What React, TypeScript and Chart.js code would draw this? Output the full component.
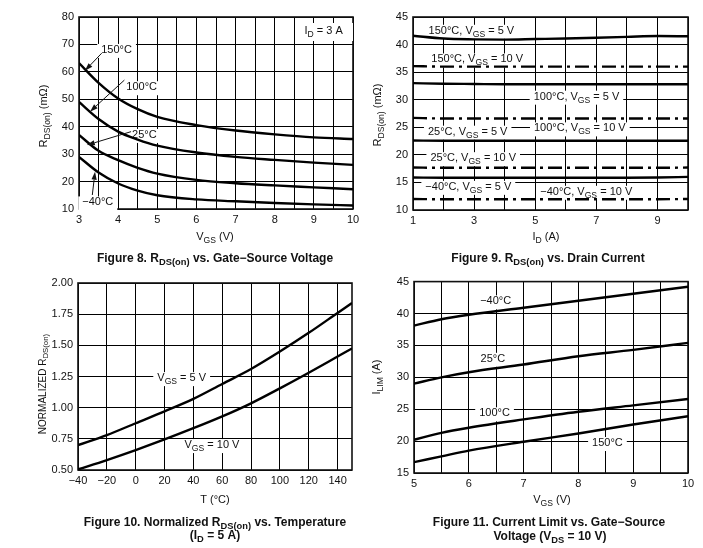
import React, { useEffect, useRef } from 'react';
import { Chart, registerables } from 'chart.js';

Chart.register(...registerables);

const FONT = '"Liberation Sans", Arial, Helvetica, sans-serif';

// ---------- Figure 8: RDS(on) vs VGS ----------
const fig8Vgs = [3, 3.5, 4, 4.5, 5, 6, 7, 8, 9, 10];
const fig8R150 = [63.2, 56.0, 50.3, 46.4, 43.6, 40.6, 38.6, 37.2, 36.1, 35.5];
const fig8R100 = [49.0, 42.8, 38.2, 35.3, 33.1, 30.6, 29.0, 27.9, 26.9, 26.1];
const fig8R25 = [37.0, 31.2, 27.8, 25.0, 22.9, 20.6, 19.4, 18.6, 17.9, 17.2];
const fig8Rm40 = [29.0, 23.3, 19.3, 16.7, 15.0, 13.5, 12.8, 12.2, 11.7, 11.3];
const fig8XTicks = { min: 3, max: 10, step: 0.5 };
const fig8YTicks = { min: 10, max: 80, step: 10 };

// ---------- Figure 9: RDS(on) vs ID ----------
const fig9Id = [1, 2, 3, 4, 5, 6, 7, 8, 9, 10];
const fig9R150V5 = [41.6, 41.1, 40.95, 40.9, 41.0, 41.1, 41.25, 41.4, 41.55, 41.5];
const fig9R150V10 = [36.1, 36.0, 36.0, 36.0, 36.0, 36.0, 36.0, 36.0, 36.0, 36.0];
const fig9R100V5 = [33.0, 32.9, 32.85, 32.8, 32.8, 32.8, 32.8, 32.8, 32.8, 32.8];
const fig9R100V10 = [26.7, 26.6, 26.6, 26.6, 26.6, 26.6, 26.6, 26.6, 26.6, 26.6];
const fig9R25V5 = [22.6, 22.55, 22.55, 22.55, 22.55, 22.55, 22.55, 22.55, 22.55, 22.55];
const fig9R25V10 = [17.7, 17.65, 17.65, 17.65, 17.65, 17.65, 17.65, 17.65, 17.65, 17.7];
const fig9Rm40V5 = [15.9, 15.85, 15.85, 15.85, 15.85, 15.85, 15.85, 15.85, 15.9, 16.0];
const fig9Rm40V10 = [12.0, 11.95, 11.95, 11.95, 11.95, 11.95, 11.95, 11.95, 11.95, 12.0];
const fig9XTicks = { min: 1, max: 10, step: 1 };
const fig9YTicks = { min: 10, max: 45, step: 5 };

// ---------- Figure 10: Normalized RDS(on) vs T ----------
const fig10T = [-40, -20, 0, 20, 40, 60, 80, 100, 120, 140, 150];
const fig10V5 = [0.70, 0.78, 0.875, 0.97, 1.07, 1.19, 1.31, 1.45, 1.60, 1.76, 1.84];
const fig10V10 = [0.505, 0.58, 0.66, 0.745, 0.835, 0.93, 1.035, 1.155, 1.28, 1.41, 1.475];
const fig10XTicks = { min: -40, max: 150, step: 20 };
const fig10YTicks = { min: 0.5, max: 2.0, step: 0.25 };

// ---------- Figure 11: ILIM vs VGS ----------
const fig11Vgs = [5, 5.5, 6, 7, 8, 9, 10];
const fig11Im40 = [38.1, 39.1, 39.8, 40.9, 42.0, 43.1, 44.2];
const fig11I25 = [29.0, 30.0, 30.8, 32.0, 33.3, 34.3, 35.4];
const fig11I100 = [20.2, 21.3, 22.1, 23.4, 24.6, 25.6, 26.6];
const fig11I150 = [16.7, 17.6, 18.5, 19.9, 21.2, 22.6, 23.9];
const fig11XTicks = { min: 5, max: 10, step: 0.5 };
const fig11YTicks = { min: 15, max: 45, step: 5 };

// ---------- helpers ----------
type Seg = { t: string; sub: boolean };
function parseRich(s: string): Seg[] {
  const segs: Seg[] = [];
  const re = /_\{([^}]*)\}/g;
  let last = 0;
  let m: RegExpExecArray | null;
  while ((m = re.exec(s))) {
    if (m.index > last) segs.push({ t: s.slice(last, m.index), sub: false });
    segs.push({ t: m[1], sub: true });
    last = m.index + m[0].length;
  }
  if (last < s.length) segs.push({ t: s.slice(last), sub: false });
  return segs;
}
const fnt = (size: number, bold: boolean) => `${bold ? 'bold ' : ''}${size}px ${FONT}`;
function richWidth(ctx: CanvasRenderingContext2D, text: string, size: number, bold: boolean) {
  let w = 0;
  for (const s of parseRich(text)) {
    ctx.font = fnt(s.sub ? size * 0.78 : size, bold);
    w += ctx.measureText(s.t).width;
  }
  return w;
}
function drawRich(ctx: CanvasRenderingContext2D, text: string, x: number, y: number, size: number, bold = false) {
  const w = richWidth(ctx, text, size, bold);
  let cx = x - w / 2;
  ctx.textBaseline = 'middle';
  ctx.textAlign = 'left';
  ctx.fillStyle = '#111';
  for (const s of parseRich(text)) {
    const sz = s.sub ? size * 0.78 : size;
    ctx.font = fnt(sz, bold);
    ctx.fillText(s.t, cx, s.sub ? y + size * 0.32 : y);
    cx += ctx.measureText(s.t).width;
  }
}

type Label = { text: string; x: number; y: number; padX?: number; h?: number; left?: number; right?: number };
type Arrow = { x1: number; y1: number; x2: number; y2: number };
type Txt = { text: string; x: number; y: number; rotate?: boolean; bold?: boolean; size?: number };
type Series = { xs: number[]; ys: number[]; dash?: number[] };
type Spec = {
  left: number; top: number; w: number; h: number;
  plot: { l: number; t: number; r: number; b: number };
  xt: { min: number; max: number; step: number };
  yt: { min: number; max: number; step: number };
  xLabel: (v: number) => string;
  yLabel: (v: number) => string;
  xIncludeBounds?: boolean;
  series: Series[];
  labels: Label[];
  arrows: Arrow[];
  texts: Txt[];
};

const Y_W = 30;
const X_H = 20;

function decorPlugin(spec: Spec) {
  return {
    id: 'decor',
    beforeDatasetsDraw(chart: any) {
      const ctx: CanvasRenderingContext2D = chart.ctx;
      const xs = chart.scales.x;
      const ys = chart.scales.y;
      const a = chart.chartArea;
      ctx.save();
      ctx.strokeStyle = '#111';
      ctx.lineWidth = 1.6;
      ctx.strokeRect(a.left, a.top, a.right - a.left, a.bottom - a.top);
      for (const lb of spec.labels) {
        const px = xs.getPixelForValue(lb.x);
        const py = ys.getPixelForValue(lb.y);
        const w = richWidth(ctx, lb.text, 11, false);
        const padX = lb.padX ?? 4;
        const hh = lb.h ?? 14;
        let bl = px - w / 2 - padX;
        let br = px + w / 2 + padX;
        if (lb.left !== undefined) bl = xs.getPixelForValue(lb.left);
        if (lb.right !== undefined) br = xs.getPixelForValue(lb.right);
        ctx.fillStyle = '#fff';
        ctx.fillRect(bl, py - hh / 2 + 1, br - bl, hh);
        drawRich(ctx, lb.text, px, py, 11, false);
      }
      ctx.restore();
    },
    afterDatasetsDraw(chart: any) {
      const ctx: CanvasRenderingContext2D = chart.ctx;
      const xs = chart.scales.x;
      const ys = chart.scales.y;
      ctx.save();
      ctx.strokeStyle = '#111';
      ctx.fillStyle = '#111';
      ctx.lineWidth = 1;
      for (const ar of spec.arrows) {
        const x1 = xs.getPixelForValue(ar.x1);
        const y1 = ys.getPixelForValue(ar.y1);
        const x2 = xs.getPixelForValue(ar.x2);
        const y2 = ys.getPixelForValue(ar.y2);
        const ang = Math.atan2(y2 - y1, x2 - x1);
        const L = 8;
        const W = 2.6;
        const bx = x2 - L * Math.cos(ang);
        const by = y2 - L * Math.sin(ang);
        ctx.beginPath();
        ctx.moveTo(x1, y1);
        ctx.lineTo(bx, by);
        ctx.stroke();
        ctx.beginPath();
        ctx.moveTo(x2, y2);
        ctx.lineTo(bx + W * Math.sin(ang), by - W * Math.cos(ang));
        ctx.lineTo(bx - W * Math.sin(ang), by + W * Math.cos(ang));
        ctx.closePath();
        ctx.fill();
      }
      ctx.restore();
    },
    afterDraw(chart: any) {
      const ctx: CanvasRenderingContext2D = chart.ctx;
      ctx.save();
      for (const t of spec.texts) {
        const size = t.size ?? 11;
        if (t.rotate) {
          ctx.save();
          ctx.translate(t.x, t.y);
          ctx.rotate(-Math.PI / 2);
          drawRich(ctx, t.text, 0, 0, size, !!t.bold);
          ctx.restore();
        } else {
          drawRich(ctx, t.text, t.x, t.y, size, !!t.bold);
        }
      }
      ctx.restore();
    },
  };
}

function buildConfig(spec: Spec): any {
  const { w, h, plot } = spec;
  const tickFont = { family: FONT, size: 11 };
  const grid = { color: '#000', lineWidth: 1, drawTicks: false };
  return {
    type: 'line',
    data: {
      datasets: spec.series.map((s) => ({
        data: s.xs.map((x, i) => ({ x, y: s.ys[i] })),
        borderColor: '#000',
        borderWidth: 2.4,
        pointRadius: 0,
        fill: false,
        cubicInterpolationMode: 'monotone',
        borderDash: s.dash || [],
        borderCapStyle: 'butt',
      })),
    },
    options: {
      animation: false,
      responsive: false,
      devicePixelRatio: 1,
      layout: { padding: { left: plot.l - Y_W, top: plot.t, right: w - plot.r, bottom: h - plot.b - X_H } },
      plugins: { legend: { display: false }, tooltip: { enabled: false } },
      scales: {
        x: {
          type: 'linear',
          min: spec.xt.min,
          max: spec.xt.max,
          ticks: {
            stepSize: spec.xt.step,
            autoSkip: false,
            maxRotation: 0,
            minRotation: 0,
            maxTicksLimit: 100,
            includeBounds: spec.xIncludeBounds !== false,
            color: '#111',
            font: tickFont,
            padding: 4,
            callback: (v: number) => spec.xLabel(Number(v)),
          },
          grid,
          border: { display: false },
          afterFit: (s: any) => { s.height = X_H; },
        },
        y: {
          type: 'linear',
          min: spec.yt.min,
          max: spec.yt.max,
          ticks: {
            stepSize: spec.yt.step,
            autoSkip: false,
            maxTicksLimit: 100,
            color: '#111',
            font: tickFont,
            padding: 5,
            callback: (v: number) => spec.yLabel(Number(v)),
          },
          grid,
          border: { display: false },
          afterFit: (s: any) => { s.width = Y_W; },
        },
      },
    },
    plugins: [decorPlugin(spec)],
  };
}

function Panel({ spec }: { spec: Spec }) {
  const ref = useRef<HTMLCanvasElement>(null);
  useEffect(() => {
    const chart = new Chart(ref.current as HTMLCanvasElement, buildConfig(spec));
    return () => chart.destroy();
  }, []);
  return (
    <canvas
      ref={ref}
      width={spec.w}
      height={spec.h}
      style={{ position: 'absolute', left: spec.left, top: spec.top, width: spec.w, height: spec.h }}
    />
  );
}

const isInt = (v: number) => Math.abs(v - Math.round(v)) < 1e-6;
const CAP = 12;

const spec8: Spec = {
  left: 0, top: 0, w: 370, h: 270,
  plot: { l: 79, t: 17, r: 353, b: 209 },
  xt: fig8XTicks, yt: fig8YTicks,
  xLabel: (v) => (isInt(v) ? String(Math.round(v)) : ''),
  yLabel: (v) => String(v),
  series: [
    { xs: fig8Vgs, ys: fig8R150 },
    { xs: fig8Vgs, ys: fig8R100 },
    { xs: fig8Vgs, ys: fig8R25 },
    { xs: fig8Vgs, ys: fig8Rm40 },
  ],
  labels: [
    { text: '150°C', x: 3.96, y: 68 },
    { text: '100°C', x: 4.6, y: 54.4 },
    { text: '25°C', x: 4.67, y: 37 },
    { text: '\u221240°C', x: 3.48, y: 12.4 },
    { text: 'I_{D} = 3 A', x: 9.25, y: 74.9, left: 8.55, right: 10, h: 18 },
  ],
  arrows: [
    { x1: 3.58, y1: 66.8, x2: 3.15, y2: 60.4 },
    { x1: 4.16, y1: 57.0, x2: 3.28, y2: 45.5 },
    { x1: 4.33, y1: 38.2, x2: 3.2, y2: 33.3 },
    { x1: 3.34, y1: 15.1, x2: 3.41, y2: 23.6 },
  ],
  texts: [
    { text: 'R_{DS(on)} (mΩ)', x: 44, y: 116, rotate: true },
    { text: 'V_{GS} (V)', x: 215, y: 237 },
    { text: 'Figure 8. R_{DS(on)} vs. Gate\u2212Source Voltage', x: 215, y: 259, bold: true, size: CAP },
  ],
};

const spec9: Spec = {
  left: 370, top: 0, w: 333, h: 270,
  plot: { l: 43, t: 17, r: 318, b: 210 },
  xt: fig9XTicks, yt: fig9YTicks,
  xLabel: (v) => (Math.round(v) % 2 === 1 ? String(Math.round(v)) : ''),
  yLabel: (v) => String(v),
  series: [
    { xs: fig9Id, ys: fig9R150V5 },
    { xs: fig9Id, ys: fig9R150V10, dash: [14, 5, 3, 5] },
    { xs: fig9Id, ys: fig9R100V5 },
    { xs: fig9Id, ys: fig9R100V10, dash: [14, 5, 3, 5] },
    { xs: fig9Id, ys: fig9R25V5 },
    { xs: fig9Id, ys: fig9R25V10, dash: [14, 5, 3, 5] },
    { xs: fig9Id, ys: fig9Rm40V5 },
    { xs: fig9Id, ys: fig9Rm40V10, dash: [14, 5, 3, 5] },
  ],
  labels: [
    { text: '150°C, V_{GS} = 5 V', x: 2.91, y: 42.5 },
    { text: '150°C, V_{GS} = 10 V', x: 3.1, y: 37.3 },
    { text: '100°C, V_{GS} = 5 V', x: 6.35, y: 30.55 },
    { text: '25°C, V_{GS} = 5 V', x: 2.79, y: 24.2 },
    { text: '100°C, V_{GS} = 10 V', x: 6.46, y: 24.8 },
    { text: '25°C, V_{GS} = 10 V', x: 2.97, y: 19.4 },
    { text: '\u221240°C, V_{GS} = 5 V', x: 2.81, y: 14.2 },
    { text: '\u221240°C, V_{GS} = 10 V', x: 6.67, y: 13.3 },
  ],
  arrows: [],
  texts: [
    { text: 'R_{DS(on)} (mΩ)', x: 8, y: 115, rotate: true },
    { text: 'I_{D} (A)', x: 176, y: 237 },
    { text: 'Figure 9. R_{DS(on)} vs. Drain Current', x: 178, y: 259, bold: true, size: CAP },
  ],
};

const spec10: Spec = {
  left: 0, top: 270, w: 370, h: 278,
  plot: { l: 78, t: 13, r: 352, b: 200 },
  xt: fig10XTicks, yt: fig10YTicks,
  xIncludeBounds: false,
  xLabel: (v) => (Math.round(v) === 150 ? '' : String(Math.round(v)).replace('-', '\u2212')),
  yLabel: (v) => v.toFixed(2),
  series: [
    { xs: fig10T, ys: fig10V5 },
    { xs: fig10T, ys: fig10V10 },
  ],
  labels: [
    { text: 'V_{GS} = 5 V', x: 31.9, y: 1.237 },
    { text: 'V_{GS} = 10 V', x: 52.9, y: 0.7 },
  ],
  arrows: [],
  texts: [
    { text: 'NORMALIZED R_{DS(on)}', x: 43, y: 114, rotate: true, size: 10 },
    { text: 'T (°C)', x: 215, y: 230 },
    { text: 'Figure 10. Normalized R_{DS(on)} vs. Temperature', x: 215, y: 252.5, bold: true, size: CAP },
    { text: '(I_{D} = 5 A)', x: 215, y: 266, bold: true, size: CAP },
  ],
};

const spec11: Spec = {
  left: 370, top: 270, w: 333, h: 278,
  plot: { l: 44, t: 10, r: 318, b: 203 },
  xt: fig11XTicks, yt: fig11YTicks,
  xLabel: (v) => (isInt(v) ? String(Math.round(v)) : ''),
  yLabel: (v) => String(v),
  series: [
    { xs: fig11Vgs, ys: fig11Im40 },
    { xs: fig11Vgs, ys: fig11I25 },
    { xs: fig11Vgs, ys: fig11I100 },
    { xs: fig11Vgs, ys: fig11I150 },
  ],
  labels: [
    { text: '\u221240°C', x: 6.49, y: 41.9 },
    { text: '25°C', x: 6.44, y: 32.9 },
    { text: '100°C', x: 6.47, y: 24.35 },
    { text: '150°C', x: 8.53, y: 19.7 },
  ],
  arrows: [],
  texts: [
    { text: 'I_{LIM} (A)', x: 7, y: 107, rotate: true },
    { text: 'V_{GS} (V)', x: 182, y: 230 },
    { text: 'Figure 11. Current Limit vs. Gate\u2212Source', x: 179, y: 252.5, bold: true, size: CAP },
    { text: 'Voltage (V_{DS} = 10 V)', x: 180, y: 266.5, bold: true, size: CAP },
  ],
};

export default function App() {
  return (
    <div style={{ position: 'absolute', left: 0, top: 0, width: 703, height: 548, background: '#fff' }}>
      <Panel spec={spec8} />
      <Panel spec={spec9} />
      <Panel spec={spec10} />
      <Panel spec={spec11} />
    </div>
  );
}
